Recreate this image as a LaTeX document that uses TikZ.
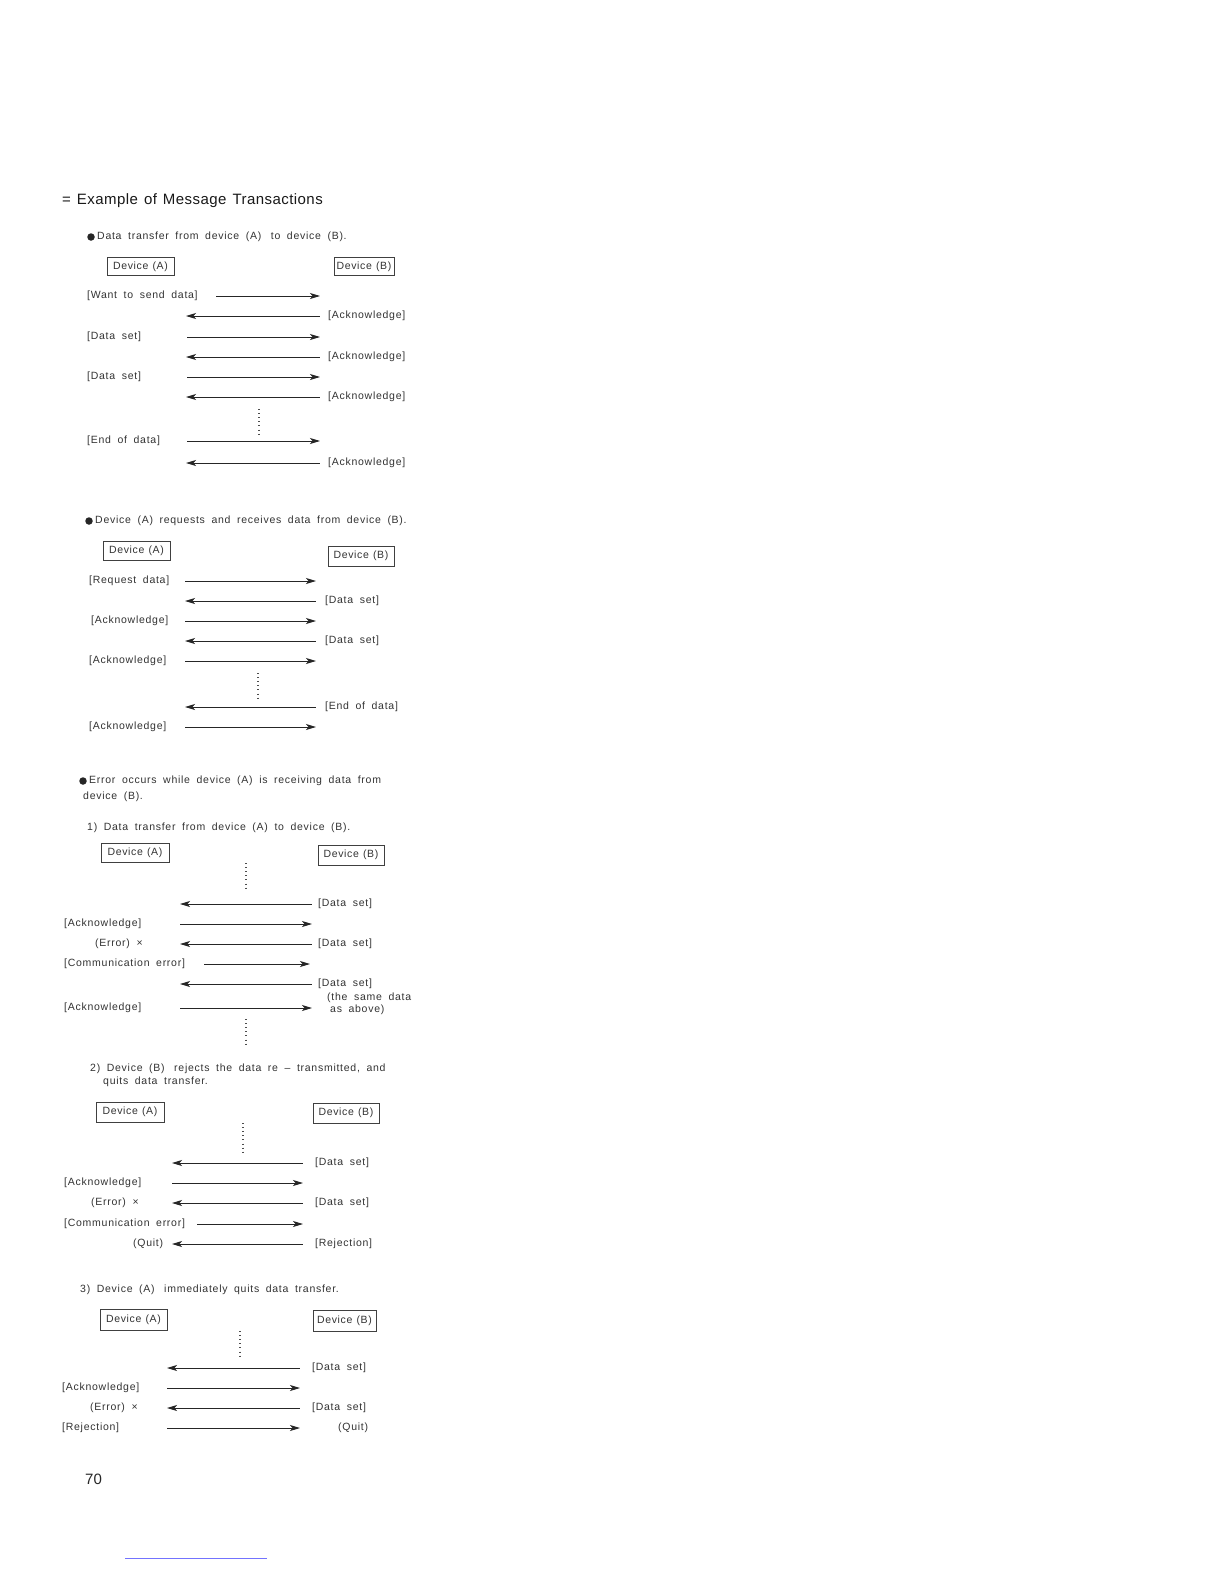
\documentclass[tikz,border=0pt]{standalone}
\usepackage{fontspec}
\setmainfont{Liberation Sans}
\newfontfamily\smallf[LetterSpace=7,WordSpace=1.8]{Liberation Sans}
\newfontfamily\boxf[LetterSpace=6,WordSpace=1.2]{Liberation Sans}
\newfontfamily\titlef[LetterSpace=3,WordSpace=1.3]{Liberation Sans}
\usetikzlibrary{arrows.meta}
\tikzset{
  lbl/.style={anchor=west, inner sep=0pt, font=\smallf\fontsize{10.5}{12}\selectfont, text=black!80},
  ttl/.style={anchor=west, inner sep=0pt, font=\titlef\fontsize{15}{17}\selectfont, text=black!90},
  dev/.style={draw=black!75, line width=0.7pt, inner sep=0pt, font=\boxf\fontsize{10.5}{12}\selectfont, text=black!80},
  msgline/.style={draw=black!85, line width=1pt},
  msgR/.style={msgline, -{Stealth[length=10pt,width=6pt,inset=2.5pt]}},
  msgL/.style={msgline, {Stealth[length=10pt,width=6pt,inset=2.5pt]}-},
  vdots/.style={draw=black!70, line width=1.1pt, dash pattern=on 0.9pt off 3.2pt},
  bul/.style={circle, fill=black!85, inner sep=0pt, minimum size=7.5pt}
}
\newcommand\mR[4]{\coordinate (#1s) at (#2,#4); \coordinate (#1e) at (#3,#4); \draw[msgR] (#1s) -- (#1e);}
\newcommand\mL[4]{\coordinate (#1s) at (#2,#4); \coordinate (#1e) at (#3,#4); \draw[msgL] (#1s) -- (#1e);}
\newcommand\vdts[4]{\coordinate (#1s) at (#2,#3); \coordinate (#1e) at (#2,#4); \draw[vdots] (#1s) -- (#1e);}
\begin{document}
\begin{tikzpicture}[x=1pt,y=-1pt]
\useasboundingbox[fill=white] (0,0) rectangle (1224,1584);

\node[ttl] (title) at (62,201) {= Example of Message Transactions};

% ---------- Section 1 ----------
\node[bul] (b1) at (91,237) {};
\node[lbl] (s1h) at (97,237) {Data transfer from device (A)\hspace{3pt} to device (B).};
\node[dev, minimum width=67pt, minimum height=18pt] (s1a) at (140.5,266.5) {Device (A)};
\node[dev, minimum width=60pt, minimum height=18pt] (s1b) at (364,266.5) {Device (B)};

\node[lbl] (s1l1) at (87,296) {[Want to send data]};
\mR{s1m1}{216}{320}{296}
\mL{s1m2}{186}{320}{316}
\node[lbl] (s1r2) at (328,316) {[Acknowledge]};
\node[lbl] (s1l3) at (87,337) {[Data set]};
\mR{s1m3}{187}{320}{337}
\mL{s1m4}{186}{320}{357}
\node[lbl] (s1r4) at (328,357) {[Acknowledge]};
\node[lbl] (s1l5) at (87,377) {[Data set]};
\mR{s1m5}{187}{320}{377}
\mL{s1m6}{186}{320}{397}
\node[lbl] (s1r6) at (328,397) {[Acknowledge]};
\vdts{s1d}{259}{409}{435}
\node[lbl] (s1l7) at (87,441) {[End of data]};
\mR{s1m7}{187}{320}{441}
\mL{s1m8}{186}{320}{463}
\node[lbl] (s1r8) at (328,463) {[Acknowledge]};

% ---------- Section 2 ----------
\node[bul] (b2) at (89,521) {};
\node[lbl] (s2h) at (95,521) {Device (A) requests and receives data from device (B).};
\node[dev, minimum width=67pt, minimum height=19pt] (s2a) at (136.5,550.5) {Device (A)};
\node[dev, minimum width=66pt, minimum height=20pt] (s2b) at (361,556) {Device (B)};

\node[lbl] (s2l1) at (89,581) {[Request data]};
\mR{s2m1}{185}{316}{581}
\mL{s2m2}{185}{316}{601}
\node[lbl] (s2r2) at (325,601) {[Data set]};
\node[lbl] (s2l3) at (91,621) {[Acknowledge]};
\mR{s2m3}{185}{316}{621}
\mL{s2m4}{185}{316}{641}
\node[lbl] (s2r4) at (325,641) {[Data set]};
\node[lbl] (s2l5) at (89,661) {[Acknowledge]};
\mR{s2m5}{185}{316}{661}
\vdts{s2d}{258}{673}{698}
\mL{s2m6}{185}{316}{707}
\node[lbl] (s2r6) at (325,707) {[End of data]};
\node[lbl] (s2l7) at (89,727) {[Acknowledge]};
\mR{s2m7}{185}{316}{727}

% ---------- Section 3 ----------
\node[bul] (b3) at (83,781) {};
\node[lbl] (s3h) at (89,781) {Error occurs while device (A) is receiving data from};
\node[lbl] (s3h2) at (83,797) {device (B).};

% 1)
\node[lbl] (p1h) at (87,828) {1) Data transfer from device (A) to device (B).};
\node[dev, minimum width=68pt, minimum height=19pt] (p1a) at (135,852.5) {Device (A)};
\node[dev, minimum width=66pt, minimum height=20pt] (p1b) at (351,855) {Device (B)};
\vdts{p1d}{246}{863}{890}
\mL{p1m1}{180}{312}{904}
\node[lbl] (p1r1) at (318,904) {[Data set]};
\node[lbl] (p1l2) at (64,924) {[Acknowledge]};
\mR{p1m2}{180}{312}{924}
\node[lbl] (p1l3) at (95,944) {(Error) ×};
\mL{p1m3}{180}{312}{944}
\node[lbl] (p1r3) at (318,944) {[Data set]};
\node[lbl] (p1l4) at (64,964) {[Communication error]};
\mR{p1m4}{204}{310}{964}
\mL{p1m5}{180}{312}{984}
\node[lbl] (p1r5) at (318,984) {[Data set]};
\node[lbl] (p1r5b) at (327,998) {(the same data};
\node[lbl] (p1r5c) at (330,1010) {as above)};
\node[lbl] (p1l6) at (64,1008) {[Acknowledge]};
\mR{p1m6}{180}{312}{1008}
\vdts{p1d2}{246}{1019}{1045}

% 2)
\node[lbl] (p2h) at (90,1069) {2) Device (B)\hspace{3pt} rejects the data re – transmitted, and};
\node[lbl] (p2h2) at (103,1082) {quits data transfer.};
\node[dev, minimum width=68pt, minimum height=20pt] (p2a) at (130,1112) {Device (A)};
\node[dev, minimum width=66pt, minimum height=20pt] (p2b) at (346,1113) {Device (B)};
\vdts{p2d}{243}{1123}{1152}
\mL{p2m1}{172}{303}{1163}
\node[lbl] (p2r1) at (315,1163) {[Data set]};
\node[lbl] (p2l2) at (64,1183) {[Acknowledge]};
\mR{p2m2}{172}{303}{1183}
\node[lbl] (p2l3) at (91,1203) {(Error) ×};
\mL{p2m3}{172}{303}{1203}
\node[lbl] (p2r3) at (315,1203) {[Data set]};
\node[lbl] (p2l4) at (64,1224) {[Communication error]};
\mR{p2m4}{197}{303}{1224}
\node[lbl] (p2l5) at (133,1244) {(Quit)};
\mL{p2m5}{172}{303}{1244}
\node[lbl] (p2r5) at (315,1244) {[Rejection]};

% 3)
\node[lbl] (p3h) at (80,1290) {3) Device (A)\hspace{3pt} immediately quits data transfer.};
\node[dev, minimum width=67pt, minimum height=21pt] (p3a) at (133.5,1319.5) {Device (A)};
\node[dev, minimum width=63pt, minimum height=21pt] (p3b) at (344.5,1320.5) {Device (B)};
\vdts{p3d}{240}{1331}{1358}
\mL{p3m1}{167}{300}{1368}
\node[lbl] (p3r1) at (312,1368) {[Data set]};
\node[lbl] (p3l2) at (62,1388) {[Acknowledge]};
\mR{p3m2}{167}{300}{1388}
\node[lbl] (p3l3) at (90,1408) {(Error) ×};
\mL{p3m3}{167}{300}{1408}
\node[lbl] (p3r3) at (312,1408) {[Data set]};
\node[lbl] (p3l4) at (62,1428) {[Rejection]};
\mR{p3m4}{167}{300}{1428}
\node[lbl] (p3r4) at (338,1428) {(Quit)};

\node[anchor=west, inner sep=0pt, font=\fontsize{15}{17}\selectfont, text=black!85] (page) at (85,1479) {70};

\coordinate (blA) at (125,1558);
\coordinate (blB) at (267,1558);
\draw[blue!55, line width=0.8pt] (blA) -- (blB);
\end{tikzpicture}
\end{document}
